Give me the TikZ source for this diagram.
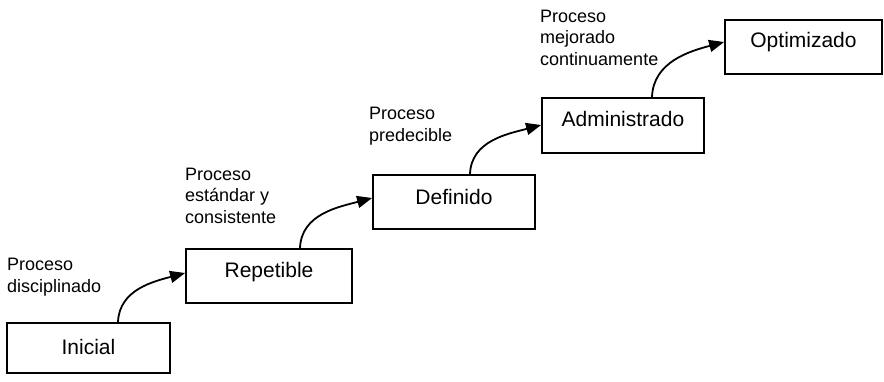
\documentclass[tikz,border=0pt]{standalone}
\usepackage{fontspec}
\setmainfont{Liberation Sans}
\usetikzlibrary{arrows.meta}
\begin{document}
\begin{tikzpicture}[x=1pt,y=-1pt,
  stage/.style={draw, line width=1.8pt, rectangle, inner sep=0pt},
  stagetext/.style={font=\fontsize{21}{25}\selectfont, inner sep=0pt},
  note/.style={anchor=base west, align=left, inner sep=0pt,
               font=\fontsize{18}{21.5}\selectfont},
  flow/.style={line width=1.8pt, -{Triangle[length=15pt,width=12pt]}}]
\useasboundingbox (0,0) rectangle (884,381);

% maturity levels, bottom left to top right
\node[stage, minimum width=163pt, minimum height=50pt,
      label={[stagetext, yshift=0.7pt]center:Inicial}] (ini) at (88.5,348) {};
\node[stage, minimum width=166pt, minimum height=54pt,
      label={[stagetext, yshift=3.5pt]center:Repetible}] (rep) at (269,276) {};
\node[stage, minimum width=162pt, minimum height=54pt,
      label={[stagetext, yshift=4.7pt]center:Definido}] (def) at (454,202) {};
\node[stage, minimum width=162pt, minimum height=55pt,
      label={[stagetext, yshift=6.2pt]center:Administrado}] (adm) at (623,125.5) {};
\node[stage, minimum width=157pt, minimum height=54pt,
      label={[stagetext, yshift=4.5pt]center:Optimizado}] (opt) at (803.5,47) {};

% process descriptions above each step (anchored at the last line)
\node[note] (n1) at (7,292) {Proceso\\disciplinado};
\node[note] (n2) at (185,223) {Proceso\\estándar y\\consistente};
\node[note] (n3) at (369,141) {Proceso\\predecible};
\node[note] (n4) at (540,65) {Proceso\\mejorado\\continuamente};

% curved transitions between levels
\draw[flow] ([xshift=29.5pt]ini.north) to[out=88, in=195] ([yshift=3pt]rep.west);
\draw[flow] ([xshift=31pt]rep.north) to[out=88, in=195] ([yshift=4pt]def.west);
\draw[flow] ([xshift=16pt]def.north) to[out=88, in=195] ([yshift=0.5pt]adm.west);
\draw[flow] ([xshift=29pt]adm.north) to[out=88, in=195] ([yshift=5pt]opt.west);
\end{tikzpicture}
\end{document}
